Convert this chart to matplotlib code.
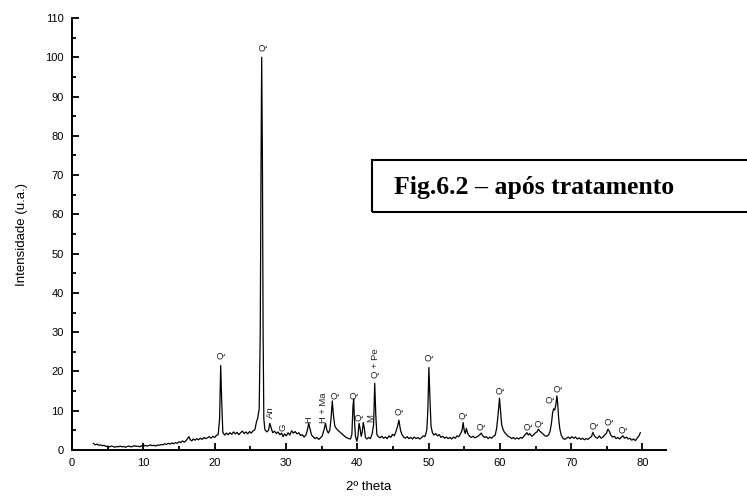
import matplotlib
matplotlib.use("Agg")
import matplotlib.pyplot as plt
from matplotlib.patches import Rectangle
from matplotlib.ticker import MultipleLocator

# difractograma (2 theta, intensidade)
two_theta = [
    3.0, 3.25, 3.5, 3.75, 4.0, 4.25, 4.5, 4.75, 5.0, 5.25, 5.5, 5.75, 6.0, 6.25, 6.5, 6.75,
    7.0, 7.25, 7.5, 7.75, 8.0, 8.25, 8.5, 8.75, 9.0, 9.25, 9.5, 9.75, 10.0, 10.25, 10.5, 10.75,
    11.0, 11.25, 11.5, 11.75, 12.0, 12.25, 12.5, 12.75, 13.0, 13.25, 13.5, 13.75, 14.0, 14.25,
    14.5, 14.75, 15.0, 15.25, 15.5, 15.75, 16.0, 16.2, 16.4, 16.6, 16.8, 17.0, 17.25, 17.5,
    17.75, 18.0, 18.25, 18.5, 18.75, 19.0, 19.25, 19.5, 19.75, 20.0, 20.25, 20.5, 20.7, 20.85,
    21.0, 21.15, 21.4, 21.65, 21.9, 22.15, 22.4, 22.65, 22.9, 23.15, 23.4, 23.65, 23.9, 24.15,
    24.4, 24.65, 24.9, 25.15, 25.4, 25.65, 25.85, 26.05, 26.25, 26.4, 26.5, 26.6, 26.7, 26.8,
    26.9, 27.05, 27.3, 27.55, 27.75, 27.95, 28.15, 28.4, 28.65, 28.9, 29.15, 29.4, 29.6, 29.8,
    30.05, 30.3, 30.55, 30.8, 31.05, 31.3, 31.55, 31.8, 32.05, 32.3, 32.55, 32.8, 33.0, 33.2,
    33.4, 33.6, 33.85, 34.1, 34.35, 34.6, 34.85, 35.1, 35.35, 35.55, 35.75, 35.95, 36.15, 36.35,
    36.5, 36.65, 36.85, 37.05, 37.3, 37.55, 37.8, 38.05, 38.3, 38.55, 38.8, 39.05, 39.25, 39.4,
    39.5, 39.6, 39.75, 39.95, 40.1, 40.25, 40.4, 40.55, 40.7, 40.85, 41.0, 41.15, 41.35, 41.6,
    41.85, 42.1, 42.3, 42.45, 42.6, 42.75, 42.95, 43.2, 43.45, 43.7, 43.95, 44.2, 44.45, 44.7,
    44.95, 45.2, 45.45, 45.65, 45.85, 46.05, 46.25, 46.5, 46.75, 47.0, 47.25, 47.5, 47.75, 48.0,
    48.25, 48.5, 48.75, 49.0, 49.25, 49.5, 49.75, 49.9, 50.05, 50.2, 50.35, 50.55, 50.75, 51.0,
    51.25, 51.5, 51.75, 52.0, 52.25, 52.5, 52.75, 53.0, 53.25, 53.5, 53.75, 54.0, 54.25, 54.5,
    54.7, 54.85, 55.0, 55.15, 55.3, 55.5, 55.75, 56.0, 56.25, 56.5, 56.75, 57.0, 57.2, 57.4,
    57.6, 57.85, 58.1, 58.35, 58.6, 58.85, 59.1, 59.35, 59.55, 59.75, 59.95, 60.1, 60.25, 60.45,
    60.65, 60.9, 61.15, 61.4, 61.65, 61.9, 62.15, 62.4, 62.65, 62.9, 63.15, 63.4, 63.6, 63.8,
    64.0, 64.2, 64.45, 64.7, 64.95, 65.2, 65.4, 65.6, 65.85, 66.1, 66.35, 66.6, 66.85, 67.05,
    67.25, 67.4, 67.55, 67.7, 67.85, 68.0, 68.1, 68.25, 68.4, 68.6, 68.85, 69.1, 69.35, 69.6,
    69.85, 70.1, 70.35, 70.6, 70.85, 71.1, 71.35, 71.6, 71.85, 72.1, 72.35, 72.6, 72.85, 73.05,
    73.25, 73.45, 73.7, 73.95, 74.2, 74.45, 74.7, 74.95, 75.15, 75.35, 75.55, 75.8, 76.05, 76.3,
    76.55, 76.8, 77.05, 77.25, 77.5, 77.75, 78.0, 78.25, 78.5, 78.75, 79.0, 79.25, 79.5, 79.7,
]
intensity = [
    1.7, 1.3, 1.5, 1.2, 1.3, 1.1, 1.2, 0.9, 1.0, 0.8, 1.0, 0.9, 0.7, 0.9, 0.8, 1.0,
    0.8, 0.9, 0.7, 0.9, 1.0, 0.8, 0.9, 1.1, 0.9, 1.0, 0.8, 1.1, 0.9, 1.2, 1.0, 1.1,
    1.3, 1.1, 1.2, 1.0, 1.3, 1.2, 1.4, 1.3, 1.6, 1.4, 1.7, 1.5, 1.8, 1.6,
    1.9, 1.7, 2.1, 1.9, 2.3, 2.0, 2.4, 2.9, 3.4, 2.6, 2.3, 2.8, 2.5, 2.9,
    2.6, 3.0, 2.7, 3.2, 2.9, 3.1, 3.4, 3.0, 3.5, 3.2, 3.7, 3.9, 8.0, 21.5,
    12.0, 4.5, 3.8, 4.3, 3.9, 4.4, 4.0, 4.6, 4.1, 4.5, 3.9, 4.4, 4.8, 4.2,
    4.6, 4.1, 4.7, 4.3, 4.9, 5.2, 7.0, 8.2, 10.5, 30.0, 70.0, 100.0, 75.0, 30.0,
    8.0, 5.2, 4.6, 5.0, 6.8, 5.5, 4.4, 4.8, 4.2, 4.6, 3.9, 4.3, 3.4, 4.1,
    3.6, 4.4, 3.8, 4.9, 4.3, 4.7, 4.1, 4.4, 3.7, 3.9, 3.3, 3.8, 5.0, 6.8,
    5.2, 3.8, 3.3, 2.9, 3.2, 2.7, 3.1, 3.6, 5.2, 6.8, 5.0, 4.3, 5.0, 8.5,
    12.5, 9.0, 6.2, 5.5, 5.0, 4.6, 4.2, 3.8, 3.4, 3.1, 2.9, 2.8, 4.0, 11.0,
    13.0, 8.0, 3.5, 2.2, 3.5, 6.8, 5.5, 3.5, 4.5, 7.0, 5.5, 3.2, 2.8, 3.2,
    2.9, 4.2, 6.5, 17.0, 9.0, 4.0, 3.4, 3.1, 3.5, 3.0, 3.3, 2.9, 3.6, 3.2,
    4.0, 3.6, 4.8, 6.0, 7.6, 5.2, 4.0, 3.3, 3.0, 3.4, 2.9, 3.2, 2.8, 3.3,
    2.9, 3.2, 2.8, 3.1, 3.6, 3.4, 5.0, 10.0, 21.0, 13.0, 6.0, 4.4, 3.8, 4.2,
    3.6, 3.9, 3.2, 3.5, 3.0, 3.3, 2.9, 3.2, 2.8, 3.3, 3.0, 3.6, 3.4, 4.2,
    5.0, 7.0, 5.0, 4.2, 5.5, 4.2, 3.5, 3.2, 3.5, 3.1, 3.3, 3.6, 3.9, 4.3,
    3.6, 3.2, 3.4, 2.9, 3.3, 3.0, 3.5, 3.8, 5.5, 9.0, 13.2, 10.0, 6.5, 5.2,
    4.5, 4.0, 3.5, 3.3, 2.9, 3.2, 2.8, 3.1, 2.8, 3.2, 3.0, 3.6, 4.0, 4.4,
    3.8, 4.2, 3.5, 3.8, 4.3, 4.6, 5.3, 4.8, 4.4, 4.0, 3.6, 3.5, 3.9, 4.8,
    7.0, 9.5, 10.5, 10.2, 11.5, 13.8, 12.0, 8.0, 5.5, 3.8, 3.0, 2.7, 3.0, 3.3,
    2.9, 3.4, 3.0, 3.3, 2.8, 3.1, 2.7, 3.0, 2.6, 2.9, 2.7, 3.1, 3.4, 4.5,
    3.6, 3.2, 3.0, 3.6, 3.0, 3.3, 3.8, 4.3, 5.3, 4.8, 3.8, 3.3, 3.5, 2.9,
    3.2, 2.8, 3.3, 3.6, 3.0, 3.3, 2.8, 3.0, 2.5, 2.8, 2.4, 3.0, 3.6, 4.4,
]

# identificacao das fases (texto, 2 theta, altura do rotulo)
peak_names = ["Q", "Q", "An", "G", "H", "H + Ma", "Q", "Q", "Q", "M", "Q + Pe", "Q", "Q",
              "Q", "Q", "Q", "Q", "Q", "Q", "Q", "Q", "Q", "Q"]
peak_pos = [20.9, 26.75, 27.9, 29.6, 33.2, 35.2, 36.9, 39.5, 40.2, 41.9, 42.6, 45.8, 50.1,
            54.8, 57.4, 60.0, 63.9, 65.5, 67.1, 68.2, 73.2, 75.3, 77.3]
peak_lab_y = [24.2, 102.5, 9.6, 5.8, 7.8, 10.8, 14.0, 14.0, 8.4, 8.2, 22.2, 9.9, 23.6,
              8.9, 6.1, 15.3, 6.1, 6.8, 12.9, 15.7, 6.3, 7.3, 5.3]

plt.rcParams['font.family'] = ['Liberation Sans', 'DejaVu Sans']

fig = plt.figure(figsize=(7.47, 4.99), dpi=100)
ax = fig.add_axes([72 / 747, 1 - 450 / 499, (666 - 72) / 747, (450 - 18) / 499])

ax.plot(two_theta, intensity, color='black', lw=0.9)

for name, x, y in zip(peak_names, peak_pos, peak_lab_y):
    ax.text(x, y, name, rotation=90, ha='center', va='center', fontsize=6.8, color='#222222')

ax.set_xlim(0, 83.3)
ax.set_ylim(0, 110)
ax.xaxis.set_major_locator(MultipleLocator(10))
ax.xaxis.set_minor_locator(MultipleLocator(5))
ax.yaxis.set_major_locator(MultipleLocator(10))
ax.yaxis.set_minor_locator(MultipleLocator(5))
ax.tick_params(which='both', direction='in', width=1.3, labelsize=8, pad=6)
ax.tick_params(which='major', length=5)
ax.tick_params(which='minor', length=3)
for side in ['top', 'right']:
    ax.spines[side].set_visible(False)
for side in ['left', 'bottom']:
    ax.spines[side].set_linewidth(1.4)

ax.set_xlabel("2º theta", fontsize=9.5, labelpad=9)
ax.set_ylabel("Intensidade (u.a.)", fontsize=9.5, labelpad=12)

# caixa do titulo (sai pela direita da figura)
fig.patches.append(Rectangle((372 / 747, 1 - 212 / 499), 400 / 747, 52 / 499,
                             transform=fig.transFigure, fill=False, lw=1.5,
                             edgecolor='black', clip_on=False))
fig.text(394 / 747, 1 - 194 / 499, "Fig.6.2 – após tratamento", fontsize=18.5,
         fontweight='bold', family=['Liberation Serif', 'DejaVu Serif'], va='baseline')

fig.savefig("out.png", dpi=100)
